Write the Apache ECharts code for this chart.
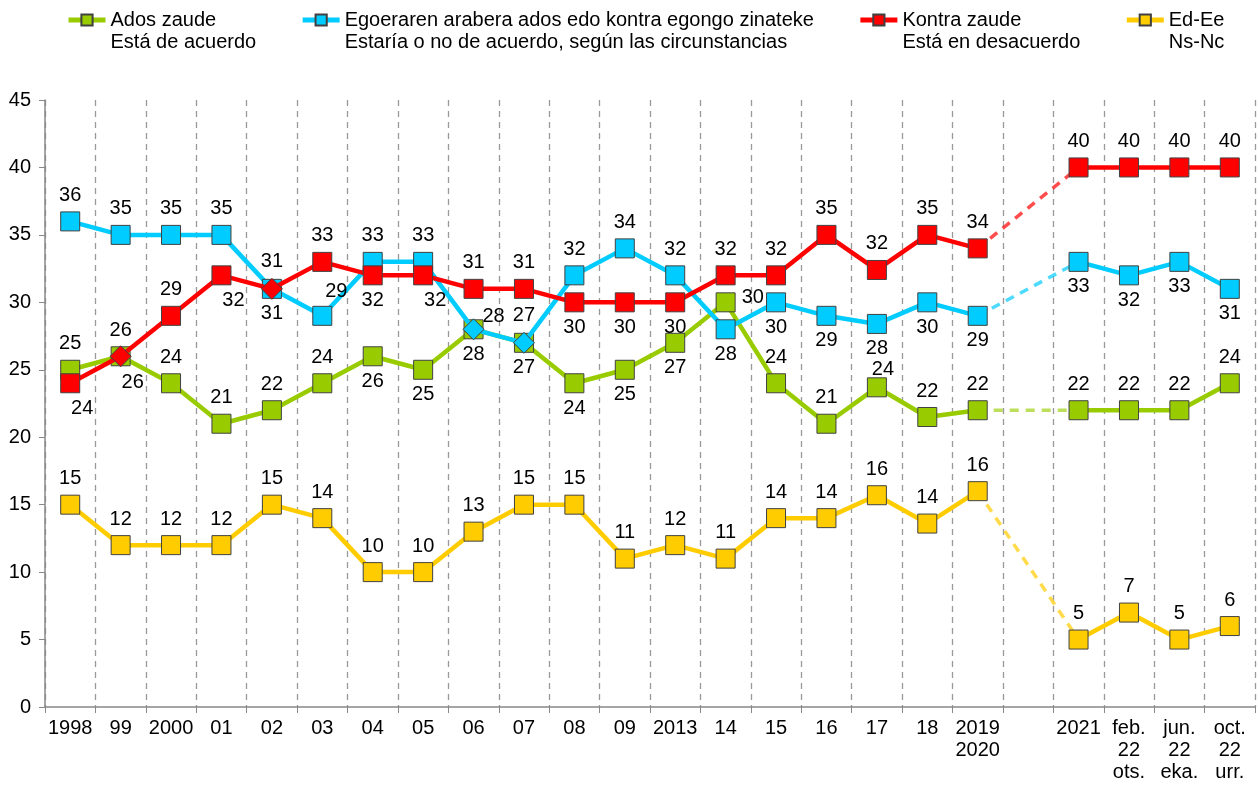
<!DOCTYPE html>
<html><head><meta charset="utf-8">
<script src="https://cdn.jsdelivr.net/npm/echarts@6/dist/echarts.min.js"></script>
<style>html,body{margin:0;padding:0;background:#fff}#c{width:1258px;height:789px}</style>
</head><body><div id="c"></div>
<script>
// ---- data ----
const categories = ['1998','99','2000','01','02','03','04','05','06','07','08','09','2013','14','15','16','17','18','2019\n2020','','2021','feb.\n22\nots.','jun.\n22\neka.','oct.\n22\nurr.'];
const seriesNames = ['Ados zaude\nEstá de acuerdo','Egoeraren arabera ados edo kontra egongo zinateke\nEstaría o no de acuerdo, según las circunstancias','Kontra zaude\nEstá en desacuerdo','Ed-Ee\nNs-Nc'];
const adosZaude = [25,26,24,21,22,24,26,25,28,27,24,25,27,30,24,21,23.7,21.5,22,null,22,22,22,24];
const egoeraren = [36,35,35,35,31,29,33,33,28,27,32,34,32,28,30,29,28.4,30,29,null,33,32,33,31];
const kontra    = [24,26,29,32,31,33,32,32,31,31,30,30,30,32,32,35,32.4,35,34,null,40,40,40,40];
const edEe      = [15,12,12,12,15,14,10,10,13,15,15,11,12,11,14,14,15.7,13.6,16,null,5,7,5,6];
const yMin = 0, yMax = 45, yStep = 5;

// ---- styling (label placement per point, marker shapes) ----
const colors = ['#99CC00','#00CCFF','#FF0000','#FFCC00'];
const dashColors = ['rgba(153,204,0,0.65)','rgba(0,204,255,0.7)','rgba(255,0,0,0.7)','rgba(255,204,0,0.7)'];
const labelPos = [
  ['t','t','t','t','t','t','b','b','b','b','b','b','b','r','t','t','t2','t','t','-','t','t','t','t'],
  ['t','t','t','t','b','tr','t','t','tr2','t','t','t','t','b','b','b','b','b','b','-','b','b','b','b'],
  ['br','br','t','br','t','t','b','br','t','t','b','b','b','t','t','t','t','t','t','-','t','t','t','t'],
  ['t','t','t','t','t','t','t','t','t','t','t','t','t','t','t','t','t','t','t','-','t','t','t','t']
];
const diamondPts = [[],[8,9],[1,4],[]];
const gapIndex = 19;

const posMap = {
  t:{position:'top',distance:6},
  t2:{position:'top',distance:2,offset:[6,4]},
  b:{position:'bottom',distance:5},
  br:{position:'bottom',distance:5,offset:[12,0]},
  tr:{position:'top',distance:4,offset:[14,0]},
  tr2:{position:'top',distance:4,offset:[20,12]},
  r:{position:'right',distance:6,offset:[0,-5]}
};

const allData = [adosZaude, egoeraren, kontra, edEe];

function buildData(arr, si){
  return arr.map((v,i)=>{
    if(v===null) return null;
    const item = {value:v, label:Object.assign({}, posMap[labelPos[si][i]])};
    if(diamondPts[si].indexOf(i)>=0){ item.symbol='diamond'; item.symbolSize=21; }
    return item;
  });
}
function bridge(arr){
  return arr.map((v,i)=> (i===gapIndex-1 || i===gapIndex+1) ? v : null);
}

const FONT = 'Liberation Sans, Arial, sans-serif';
const series = [];
allData.forEach((arr,si)=>{
  series.push({
    name: 'bridge'+si, type:'line', data: bridge(arr), connectNulls:true,
    symbol:'none', silent:true, z:1,
    lineStyle:{color:dashColors[si], width:3.5, type:[9,7]}
  });
});
allData.forEach((arr,si)=>{
  series.push({
    name: seriesNames[si], type:'line', data: buildData(arr, si), connectNulls:false,
    symbol:'rect', symbolSize:19, z:2+si,
    lineStyle:{color:colors[si], width:4.5},
    itemStyle:{color:colors[si], borderColor:'#404040', borderWidth:1},
    label:{show:true, color:'#000', fontSize:20, fontFamily:FONT,
      formatter:p=>Math.round(p.value)},
    emphasis:{disabled:true}
  });
});

const chart = echarts.init(document.getElementById('c'), null, {renderer:'canvas'});
chart.setOption({
  animation:false,
  backgroundColor:'#fff',
  textStyle:{fontFamily:FONT},
  legend:{
    data: seriesNames, left:66, top:-13, padding:0, itemGap:44, itemWidth:37, itemHeight:14,
    selectedMode:false,
    formatter: name => '\n' + name,
    lineStyle:{width:5},
    textStyle:{fontSize:20, lineHeight:22, color:'#000', fontFamily:FONT}
  },
  grid:{left:45, right:3, top:100, bottom:82},
  xAxis:{
    type:'category', data:categories, boundaryGap:true,
    axisLine:{lineStyle:{color:'#888', width:1.5}},
    axisTick:{show:true, interval:0, length:6, lineStyle:{color:'#888'}},
    axisLabel:{interval:0, color:'#000', fontSize:20, lineHeight:22, margin:10, fontFamily:FONT},
    splitLine:{show:true, interval:0, lineStyle:{color:'#999', type:[6,5], width:1.3}}
  },
  yAxis:{
    type:'value', min:yMin, max:yMax, interval:yStep,
    axisLine:{show:true, lineStyle:{color:'#888', width:1.5}},
    axisTick:{show:true, length:6, lineStyle:{color:'#888'}},
    axisLabel:{color:'#000', fontSize:20, margin:14, fontFamily:FONT},
    splitLine:{show:false}
  },
  series: series
});
</script>
</body></html>
